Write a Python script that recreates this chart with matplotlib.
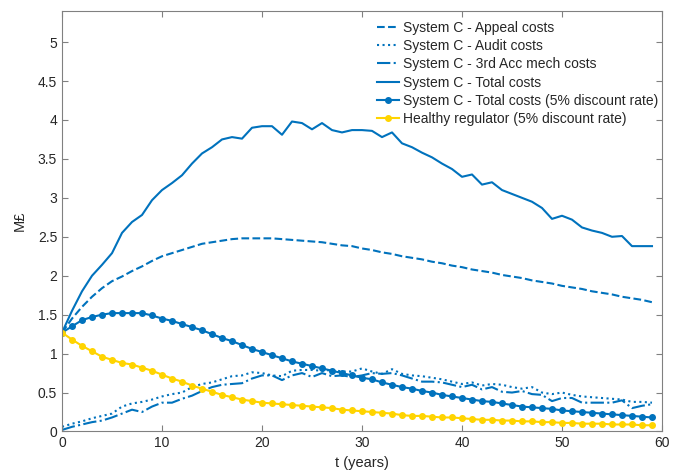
import numpy as np
import matplotlib
matplotlib.use('Agg')
import matplotlib.pyplot as plt
from matplotlib.ticker import FormatStrFormatter, MultipleLocator

plt.rcParams['font.family'] = ['Liberation Sans', 'DejaVu Sans']
plt.rcParams['font.size'] = 10

t = np.arange(0, 60)

appeal = [1.27, 1.45, 1.60, 1.73, 1.84, 1.93, 1.99, 2.06, 2.12, 2.19,
          2.25, 2.29, 2.33, 2.37, 2.41, 2.43, 2.45, 2.47, 2.48, 2.48,
          2.48, 2.48, 2.47, 2.46, 2.45, 2.44, 2.43, 2.41, 2.39, 2.38,
          2.35, 2.33, 2.30, 2.28, 2.25, 2.23, 2.21, 2.18, 2.16, 2.13,
          2.11, 2.08, 2.06, 2.04, 2.01, 1.99, 1.97, 1.94, 1.92, 1.90,
          1.87, 1.85, 1.83, 1.80, 1.78, 1.76, 1.73, 1.71, 1.69, 1.66]

audit = [0.06, 0.10, 0.13, 0.17, 0.20, 0.23, 0.32, 0.36, 0.38, 0.41,
         0.45, 0.48, 0.50, 0.57, 0.61, 0.63, 0.67, 0.71, 0.72, 0.76,
         0.75, 0.72, 0.71, 0.78, 0.79, 0.79, 0.78, 0.79, 0.77, 0.77,
         0.81, 0.77, 0.74, 0.80, 0.74, 0.72, 0.71, 0.69, 0.67, 0.64,
         0.61, 0.63, 0.59, 0.61, 0.60, 0.57, 0.55, 0.57, 0.50, 0.48,
         0.50, 0.47, 0.45, 0.44, 0.43, 0.42, 0.41, 0.38, 0.38, 0.37]

acc3 = [0.02, 0.06, 0.09, 0.12, 0.14, 0.18, 0.23, 0.28, 0.25, 0.32,
        0.37, 0.37, 0.42, 0.46, 0.52, 0.57, 0.60, 0.61, 0.62, 0.68,
        0.72, 0.72, 0.66, 0.72, 0.75, 0.70, 0.75, 0.71, 0.72, 0.70,
        0.72, 0.75, 0.74, 0.75, 0.72, 0.68, 0.64, 0.64, 0.63, 0.60,
        0.57, 0.60, 0.54, 0.57, 0.51, 0.50, 0.52, 0.48, 0.47, 0.39,
        0.43, 0.43, 0.37, 0.37, 0.37, 0.37, 0.40, 0.30, 0.33, 0.35]

total = [1.27, 1.55, 1.80, 2.00, 2.14, 2.29, 2.55, 2.69, 2.78, 2.97,
         3.10, 3.19, 3.29, 3.44, 3.57, 3.65, 3.75, 3.78, 3.76, 3.90,
         3.92, 3.92, 3.81, 3.98, 3.96, 3.88, 3.96, 3.87, 3.84, 3.87,
         3.87, 3.86, 3.78, 3.84, 3.70, 3.65, 3.58, 3.52, 3.44, 3.37,
         3.27, 3.30, 3.17, 3.20, 3.10, 3.05, 3.00, 2.95, 2.87, 2.73,
         2.77, 2.72, 2.62, 2.58, 2.55, 2.50, 2.51, 2.38, 2.38, 2.38]

total_disc = [1.27, 1.35, 1.43, 1.47, 1.50, 1.52, 1.52, 1.52, 1.52, 1.49,
              1.45, 1.42, 1.38, 1.34, 1.30, 1.25, 1.20, 1.16, 1.11, 1.06,
              1.02, 0.98, 0.94, 0.90, 0.87, 0.84, 0.81, 0.78, 0.75, 0.72,
              0.69, 0.67, 0.63, 0.60, 0.57, 0.55, 0.52, 0.50, 0.47, 0.45,
              0.43, 0.41, 0.39, 0.38, 0.36, 0.34, 0.32, 0.31, 0.30, 0.29,
              0.27, 0.26, 0.25, 0.24, 0.23, 0.22, 0.21, 0.20, 0.19, 0.18]

healthy = [1.27, 1.18, 1.10, 1.03, 0.96, 0.92, 0.88, 0.86, 0.82, 0.78,
           0.73, 0.68, 0.64, 0.59, 0.55, 0.51, 0.47, 0.44, 0.41, 0.39,
           0.37, 0.36, 0.35, 0.34, 0.33, 0.32, 0.31, 0.30, 0.28, 0.27,
           0.26, 0.25, 0.24, 0.23, 0.21, 0.20, 0.20, 0.19, 0.18, 0.18,
           0.17, 0.16, 0.15, 0.15, 0.14, 0.14, 0.13, 0.13, 0.12, 0.12,
           0.11, 0.11, 0.10, 0.10, 0.10, 0.09, 0.09, 0.09, 0.08, 0.08]

BLUE = '#0072BD'
YELLOW = '#FFD400'
TXT = '#262626'
AX = '#808080'

fig, ax = plt.subplots(figsize=(6.86, 4.75), dpi=100)
fig.subplots_adjust(left=0.0904, right=0.965, bottom=0.0916, top=0.977)

ax.plot(t, appeal, '--', color=BLUE, lw=1.5, label='System C - Appeal costs')
ax.plot(t, audit, ':', color=BLUE, lw=1.5, label='System C - Audit costs')
ax.plot(t, acc3, '-.', color=BLUE, lw=1.5, label='System C - 3rd Acc mech costs')
ax.plot(t, total, '-', color=BLUE, lw=1.5, label='System C - Total costs')
ax.plot(t, total_disc, '-o', color=BLUE, lw=1.5, ms=4,
        label='System C - Total costs (5% discount rate)')
ax.plot(t, healthy, '-o', color=YELLOW, lw=1.5, ms=4,
        label='Healthy regulator (5% discount rate)')

ax.set_xlim(0, 60)
ax.set_ylim(0, 5.4)
ax.xaxis.set_major_locator(MultipleLocator(10))
ax.yaxis.set_major_locator(MultipleLocator(0.5))
ax.yaxis.set_major_formatter(FormatStrFormatter('%g'))

ax.tick_params(direction='in', top=True, right=True, length=4, width=0.8,
               color=AX, labelcolor=TXT, labelsize=10)
for s in ax.spines.values():
    s.set_color(AX)
    s.set_linewidth(0.8)

ax.set_xlabel('t (years)', color=TXT, fontsize=10.5, labelpad=4)
ax.set_ylabel('M£', color=TXT, fontsize=10.5, labelpad=8)

# legend without a box, top right like the MATLAB one
leg = ax.legend(loc='upper left', bbox_to_anchor=(0.525, 0.976), frameon=False,
                borderpad=0, borderaxespad=0, handlelength=1.6, handletextpad=0.3,
                labelspacing=0.3, fontsize=10)
for txt in leg.get_texts():
    txt.set_color(TXT)

plt.savefig('out.png', dpi=100)
